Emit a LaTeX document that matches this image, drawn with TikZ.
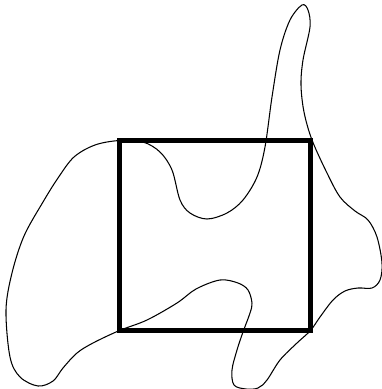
\documentclass[tikz,border=0pt]{standalone}
\begin{document}
\begin{tikzpicture}[x=0.02cm,y=-0.02cm,
  region/.style={line width=0.6pt, line join=round},
  window/.style={line width=2.8pt}]
  \useasboundingbox (0,0) rectangle (382,389);
  \coordinate (tl) at (119.5,140.5);
  \coordinate (tr) at (310.5,140.5);
  \coordinate (br) at (310.5,330.5);
  \coordinate (bl) at (119.5,330.5);
  % the outline passes through three of the corners
  \draw[region] plot[smooth cycle, tension=0.55] coordinates {
    (tl) (143,142) (160,152) (172,170) (180,200) (190,213) (207,219)
    (227,213) (243,200) (257,177) (265,147) (272,97) (280,50) (290,20)
    (302,5) (308,10) (310,27) (303,60) (301,85) (304,112) (312,140)
    (327,173) (340,197) (355,211) (368,220) (377,237) (382,263) (380,280)
    (372,288) (358,288) (345,291) (333,300) (320,317) (br) (297,343)
    (280,360) (267,380) (258,388) (246,389) (234,385) (232,370) (237,350)
    (243,332) (250,313) (252,303) (248,290) (238,283) (220,280) (196,289)
    (177,303) (147,320) (bl) (93,343) (77,353) (63,368) (53,381) (38,386)
    (20,377) (10,357) (6,310) (12,273) (24,236) (43,202) (58,178) (74,157)
    (95,145)};
  \draw[window] (tl) -- (tr) -- (br) -- (bl) -- cycle;
\end{tikzpicture}
\end{document}
